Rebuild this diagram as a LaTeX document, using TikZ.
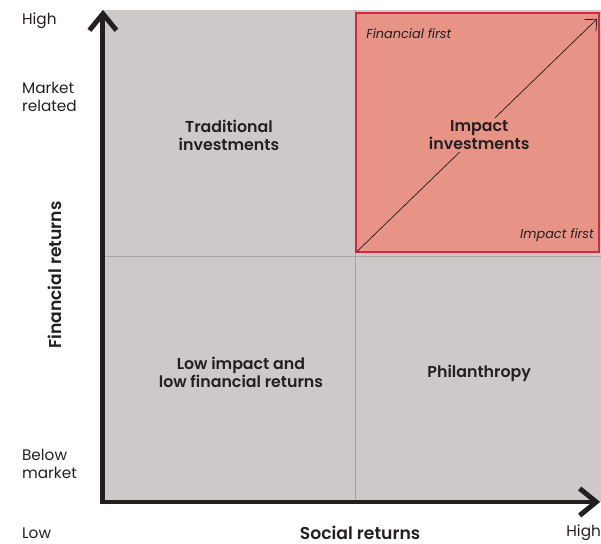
\documentclass[tikz,border=0pt]{standalone}
\usepackage{fontspec}
\setmainfont{Poppins}[BoldFont={Poppins SemiBold}]
\usetikzlibrary{arrows.meta}

\definecolor{quadgray}{HTML}{CDC9C8}
\definecolor{divgray}{HTML}{A8A4A3}
\definecolor{impactred}{HTML}{E79486}
\definecolor{borderred}{HTML}{D7263D}
\definecolor{inkblack}{HTML}{231F20}

\tikzset{
    quadlabel/.style={align=center, text=inkblack, inner sep=2pt, font=\bfseries\fontsize{15}{17}\selectfont},
    axislabel/.style={align=left, anchor=west, text=inkblack, inner sep=0pt, font=\fontsize{14.5}{17}\selectfont},
    axistitle/.style={text=inkblack, inner sep=0pt, font=\bfseries\fontsize{16.3}{17}\selectfont},
    cornerlabel/.style={text=inkblack, inner sep=0pt, font=\itshape\fontsize{12.2}{14}\selectfont},
    axisline/.style={draw=inkblack, line width=4.7pt, line join=miter,
        {Straight Barb[length=0.55cm, width=0.9cm]}-{Straight Barb[length=0.55cm, width=0.9cm]}},
}

\begin{document}
\begin{tikzpicture}
        \useasboundingbox (0,0) rectangle (20.03,18.1);
        % Draw grey background of the four quadrants
        \fill[quadgray] (3.43,1.37) rectangle (20.03,17.77);
        % Draw dividing lines
        \draw[divgray, line width=0.8pt] (11.83,1.37) -- (11.83,17.77);
        \draw[divgray, line width=0.8pt] (3.43,9.57) -- (20.03,9.57);
        % Draw impact box
        \draw[fill=impactred, draw=borderred, line width=2pt] (11.85,9.7) rectangle (19.97,17.67);
        % Draw diagonal arrow
        \coordinate (diagstart) at (11.9,9.72);
        \coordinate (diagend) at (19.9,17.47);
        \draw[inkblack, line width=0.7pt, -{Straight Barb[length=0.3cm, width=0.55cm]}] (diagstart) -- (diagend);
        % Draw axes
        \coordinate (origin) at (3.43,1.37);
        \coordinate (ytop) at (3.43,17.77);
        \coordinate (xend) at (20.0,1.37);
        \draw[axisline] (ytop) -- (origin) -- (xend);
        % Draw quadrant texts
        \node[quadlabel] (traditional) at (7.63,13.6) {Traditional\\investments};
        \node[quadlabel, fill=impactred] (impact) at (15.97,13.6) {Impact\\investments};
        \node[quadlabel] (lowimpact) at (8.03,5.7) {Low impact and\\low financial returns};
        \node[quadlabel] (philanthropy) at (15.97,5.67) {Philanthropy};
        \node[cornerlabel, anchor=west] (finfirst) at (12.2,16.97) {Financial first};
        \node[cornerlabel, anchor=east] (impfirst) at (19.8,10.27) {Impact first};
        % Draw axis texts
        \node[axislabel] (yhigh) at (0.73,17.4) {High};
        \node[axislabel] (market) at (0.73,14.87) {Market\\related};
        \node[axislabel] (below) at (0.73,2.63) {Below\\market};
        \node[axislabel] (xlow) at (0.73,0.33) {Low};
        \node[axistitle] (social) at (12.0,0.33) {Social returns};
        \node[axislabel] (xhigh) at (18.87,0.33) {High};
        \node[axistitle, rotate=90] (financial) at (1.83,8.93) {Financial returns};
    \end{tikzpicture}
\end{document}
